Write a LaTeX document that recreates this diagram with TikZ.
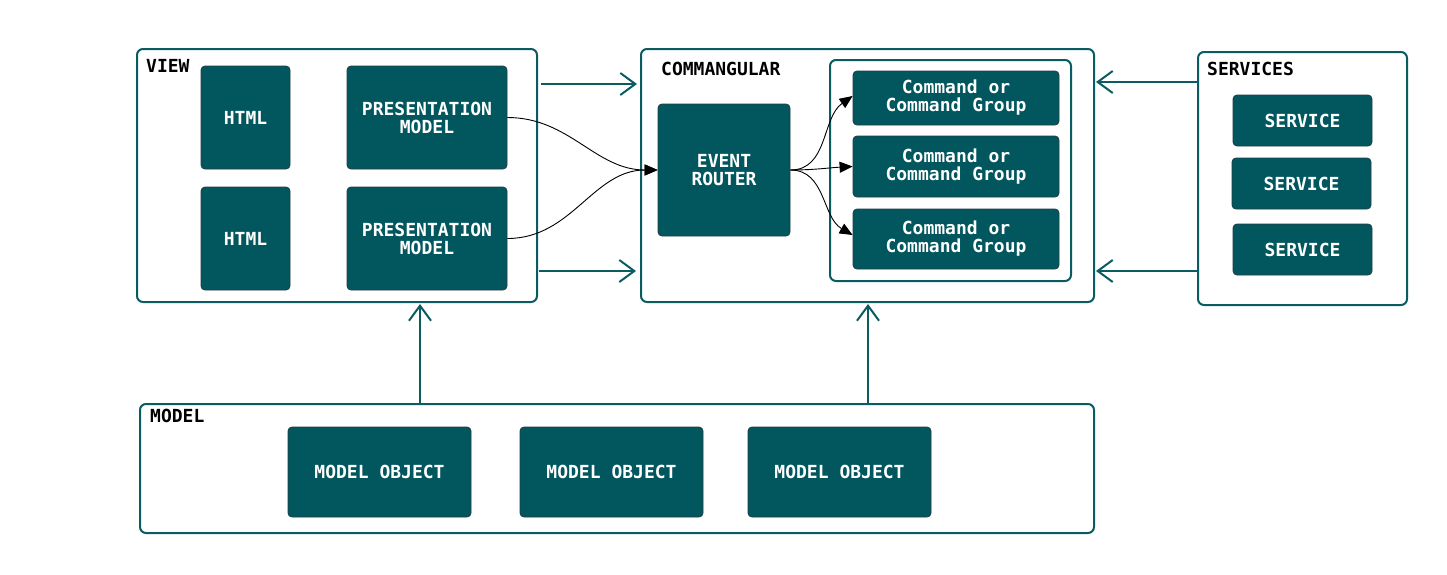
\documentclass[tikz,border=0pt]{standalone}
\usepackage{fontspec}
\setmonofont{DejaVu Sans Mono}
\usetikzlibrary{arrows.meta}
\definecolor{boxfill}{HTML}{02575F}
\definecolor{boxedge}{HTML}{1C3E44}
\definecolor{framec}{HTML}{0B5B63}
\tikzset{
  blk/.style={draw=boxedge, line width=0.8pt, fill=boxfill, rounded corners=4pt, text=white,
    font=\ttfamily\bfseries\fontsize{18}{18}\selectfont, align=center, inner sep=0pt},
  frm/.style={draw=framec, line width=2pt, rounded corners=6pt, inner sep=0pt},
  lbl/.style={anchor=base west, inner sep=0pt, text=black, font=\ttfamily\bfseries\fontsize{18}{18}\selectfont},
  bigarrow/.style={draw=framec, line width=2pt, -{Straight Barb[length=15pt,width=22pt]}},
  thinarrow/.style={draw=black, line width=0.9pt, -{Triangle[length=13pt,width=11pt]}},
}
\begin{document}
\begin{tikzpicture}[x=1pt,y=-1pt]
\useasboundingbox (0,0) rectangle (1447,574);
\fill[white] (0,0) rectangle (1447,574);

% frames
\node[frm, minimum width=400pt, minimum height=253pt] (view) at (337,175.5) {};
\node[frm, minimum width=453pt, minimum height=253pt] (cmd) at (867.5,175.5) {};
\node[frm, minimum width=241pt, minimum height=221pt] (inner) at (950.5,170.5) {};
\node[frm, minimum width=209pt, minimum height=253pt] (serv) at (1302.5,178.5) {};
\node[frm, minimum width=954pt, minimum height=129pt] (model) at (617,468.5) {};

% labels
\node[lbl] (lview) at (146,72) {VIEW};
\node[lbl] (lcmd) at (661,75) {COMMANGULAR};
\node[lbl] (lserv) at (1207,75) {SERVICES};
\node[lbl] (lmodel) at (150,422) {MODEL};

% view boxes
\node[blk, minimum width=89pt, minimum height=103pt] (h1) at (245.5,117.5) {HTML};
\node[blk, minimum width=89pt, minimum height=103pt] (h2) at (245.5,238.5) {HTML};
\node[blk, minimum width=160pt, minimum height=103pt] (pm1) at (427,117.5) {PRESENTATION\\MODEL};
\node[blk, minimum width=160pt, minimum height=103pt] (pm2) at (427,238.5) {PRESENTATION\\MODEL};

% commangular
\node[blk, minimum width=132pt, minimum height=132pt] (er) at (724,170) {EVENT\\ROUTER};
\node[blk, minimum width=206pt, minimum height=54pt] (c1) at (956,98) {Command or\\Command Group};
\node[blk, minimum width=206pt, minimum height=61pt] (c2) at (956,166.5) {Command or\\Command Group};
\node[blk, minimum width=206pt, minimum height=60pt] (c3) at (956,239) {Command or\\Command Group};

% services
\node[blk, minimum width=139pt, minimum height=51pt] (s1) at (1302.5,120.5) {SERVICE};
\node[blk, minimum width=139pt, minimum height=51pt] (s2) at (1301.5,183.5) {SERVICE};
\node[blk, minimum width=139pt, minimum height=51pt] (s3) at (1302.5,249.5) {SERVICE};

% model objects
\node[blk, minimum width=183pt, minimum height=90pt] (m1) at (379.5,472) {MODEL OBJECT};
\node[blk, minimum width=183pt, minimum height=90pt] (m2) at (611.5,472) {MODEL OBJECT};
\node[blk, minimum width=183pt, minimum height=90pt] (m3) at (839.5,472) {MODEL OBJECT};

% big arrows
\draw[bigarrow, shorten <=3pt, shorten >=3pt] (view.east |- 0,84) -- (cmd.west |- 0,84);
\draw[bigarrow, shorten <=1pt, shorten >=4pt] (view.east |- 0,271) -- (cmd.west |- 0,271);
\draw[bigarrow, shorten >=1pt] (serv.west |- 0,82) -- (cmd.east |- 0,82);
\draw[bigarrow, shorten >=1pt] (serv.west |- 0,271) -- (cmd.east |- 0,271);
\draw[bigarrow, shorten >=1pt] (model.north -| 420,0) -- (view.south -| 420,0);
\draw[bigarrow, shorten >=1pt] (model.north -| 868,0) -- (cmd.south -| 868,0);

% thin arrows
\draw[thinarrow] (pm1.east) to[out=0,in=180] (er.west);
\draw[thinarrow] (pm2.east) to[out=0,in=180] (er.west);
\draw[thinarrow] (er.east) to[out=0,in=215] ([yshift=2pt]c1.west);
\draw[thinarrow] (er.east) to[out=0,in=183] (c2.west);
\draw[thinarrow] (er.east) to[out=0,in=150] ([yshift=4pt]c3.west);
\end{tikzpicture}
\end{document}
